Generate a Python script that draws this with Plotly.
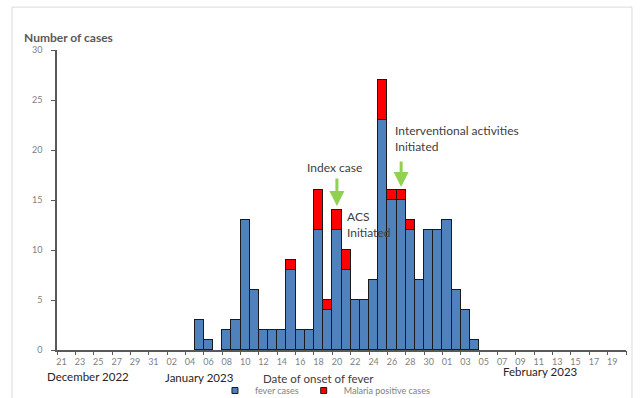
import plotly.graph_objects as go

dates = ["2023-01-05", "2023-01-06", "2023-01-07", "2023-01-08", "2023-01-09", "2023-01-10",
         "2023-01-11", "2023-01-12", "2023-01-13", "2023-01-14", "2023-01-15", "2023-01-16",
         "2023-01-17", "2023-01-18", "2023-01-19", "2023-01-20", "2023-01-21", "2023-01-22",
         "2023-01-23", "2023-01-24", "2023-01-25", "2023-01-26", "2023-01-27", "2023-01-28",
         "2023-01-29", "2023-01-30", "2023-01-31", "2023-02-01", "2023-02-02", "2023-02-03",
         "2023-02-04"]
fever_cases = [3, 1, None, 2, 3, 13, 6, 2, 2, 2, 8, 2, 2, 12, 4, 12, 8, 5, 5, 7, 23, 15, 15, 12,
               7, 12, 12, 13, 6, 4, 1]
malaria_cases = [None, None, None, None, None, None, None, None, None, None, 1, None, None, 4, 1,
                 2, 2, None, None, None, 4, 1, 1, 1, None, None, None, None, None, None, None]
series_names = ["fever cases", "Malaria positive cases"]
series_colors = ["#4f81bd", "#ff0000"]

FONT = "Lato"
GRAY = "#7f7f7f"
DARK = "#404040"
DAY = 86400000

fig = go.Figure()
for vals, name, col in zip([fever_cases, malaria_cases], series_names, series_colors):
    fig.add_trace(go.Bar(x=dates, y=vals, name=name, width=DAY, showlegend=False,
                         marker=dict(color=col, line=dict(color="#1a1a1a", width=1))))
# small square legend entries
for name, col in zip(series_names, series_colors):
    fig.add_trace(go.Scatter(x=[None], y=[None], mode="markers", name=name,
                             marker=dict(symbol="square", size=6, color=col,
                                         line=dict(color="#1a1a1a", width=1))))
# invisible trace for boundary tick axis
fig.add_trace(go.Scatter(x=["2023-01-01"], y=[0], xaxis="x2", mode="markers",
                         marker=dict(opacity=0), showlegend=False, hoverinfo="skip"))

xr = ["2022-12-20 12:00", "2023-02-20 12:00"]
boundary_ticks = ["2022-12-20 12:00", "2022-12-22 12:00", "2022-12-24 12:00", "2022-12-26 12:00",
                  "2022-12-28 12:00", "2022-12-30 12:00", "2023-01-01 12:00", "2023-01-03 12:00",
                  "2023-01-05 12:00", "2023-01-07 12:00", "2023-01-09 12:00", "2023-01-11 12:00",
                  "2023-01-13 12:00", "2023-01-15 12:00", "2023-01-17 12:00", "2023-01-19 12:00",
                  "2023-01-21 12:00", "2023-01-23 12:00", "2023-01-25 12:00", "2023-01-27 12:00",
                  "2023-01-29 12:00", "2023-01-31 12:00", "2023-02-02 12:00", "2023-02-04 12:00",
                  "2023-02-06 12:00", "2023-02-08 12:00", "2023-02-10 12:00", "2023-02-12 12:00",
                  "2023-02-14 12:00", "2023-02-16 12:00", "2023-02-18 12:00", "2023-02-20 12:00"]

fig.update_layout(
    width=643, height=398,
    margin=dict(l=57, r=17, t=50, b=48, autoexpand=False),
    paper_bgcolor="white", plot_bgcolor="white",
    barmode="stack", bargap=0,
    font=dict(family=FONT, color=DARK),
    xaxis=dict(type="date", range=xr, tick0="2022-12-21", dtick=2 * DAY, tickformat="%d",
               ticks="", showgrid=False, showline=True, linecolor="#595959", linewidth=1.5,
               tickfont=dict(size=9, color=GRAY), ticklabelstandoff=2, zeroline=False),
    xaxis2=dict(type="date", range=xr, overlaying="x", side="bottom", tickmode="array",
                tickvals=boundary_ticks, ticks="outside", ticklen=4, tickcolor="#595959",
                showticklabels=False, showgrid=False, showline=False, zeroline=False),
    yaxis=dict(range=[0, 30], dtick=5, ticks="outside", ticklen=4, tickcolor="#595959",
               showline=True, linecolor="#595959", linewidth=1.5, showgrid=False,
               zeroline=False, tickfont=dict(size=9, color=GRAY), ticklabelstandoff=7),
    legend=dict(orientation="h", x=0.2776, xanchor="left", y=-0.135, yanchor="middle",
                font=dict(size=9, color=GRAY), itemwidth=30, tracegroupgap=0,
                traceorder="normal", bgcolor="rgba(0,0,0,0)"),
    showlegend=True,
)

fig.add_shape(type="rect", xref="paper", yref="paper", x0=-0.079, x1=1.0105, y0=-0.3, y1=1.143,
              line=dict(color="#d9d9d9", width=1), layer="below")

ann = []
ann.append(dict(text="<b>Number of cases</b>", xref="paper", yref="paper", x=-0.0615, y=1.04,
                xanchor="left", yanchor="middle", showarrow=False,
                font=dict(size=12, color="#595959")))
ann.append(dict(text="December 2022", xref="paper", yref="paper", x=0.0545, y=-0.087,
                xanchor="center", yanchor="middle", showarrow=False,
                font=dict(size=11.5, color="#262626")))
ann.append(dict(text="January 2023", xref="paper", yref="paper", x=0.25, y=-0.09,
                xanchor="center", yanchor="middle", showarrow=False,
                font=dict(size=11.5, color="#262626")))
ann.append(dict(text="February 2023", xref="paper", yref="paper", x=0.849, y=-0.07,
                xanchor="center", yanchor="middle", showarrow=False,
                font=dict(size=11.5, color="#262626")))
ann.append(dict(text="Date of onset of fever", xref="paper", yref="paper", x=0.459, y=-0.095,
                xanchor="center", yanchor="middle", showarrow=False,
                font=dict(size=11.5, color=DARK)))
ann.append(dict(text="Index case", x="2023-01-19 18:00", y=18.3, xanchor="center",
                yanchor="middle", showarrow=False, font=dict(size=12, color=DARK)))
ann.append(dict(text="ACS<br>Initiated", x="2023-01-20 21:00", y=12.55, xanchor="left",
                yanchor="middle", align="left", showarrow=False, font=dict(size=12, color=DARK)))
ann.append(dict(text="Interventional activities<br>Initiated", x="2023-01-26 02:00", y=21.15,
                xanchor="left", yanchor="middle", align="left", showarrow=False,
                font=dict(size=12, color=DARK)))
ann.append(dict(text="", x="2023-01-20", y=14.4, ax="2023-01-20", ay=17.3, axref="x", ayref="y",
                showarrow=True, arrowhead=2, arrowsize=1, arrowwidth=3, arrowcolor="#92d050"))
ann.append(dict(text="", x="2023-01-27", y=16.3, ax="2023-01-27", ay=19.0, axref="x", ayref="y",
                showarrow=True, arrowhead=2, arrowsize=1, arrowwidth=3, arrowcolor="#92d050"))
fig.update_layout(annotations=ann)

fig.write_html("out.html", config={"displayModeBar": False},
               post_script="document.body.style.margin='0px';")
